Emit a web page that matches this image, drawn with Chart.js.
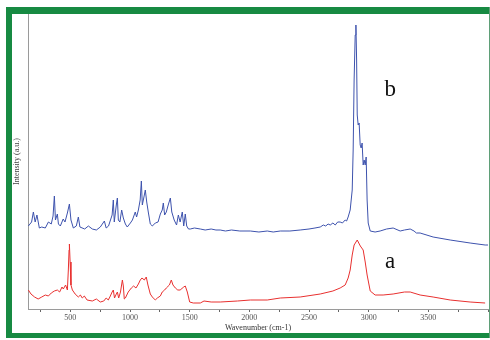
<!DOCTYPE html>
<html>
<head>
<meta charset="utf-8">
<script src="https://cdn.jsdelivr.net/npm/chart.js@4"></script>
<style>
  body { margin: 0; background: #fff; }
  #wrap { position: relative; width: 490px; height: 340px; overflow: hidden; }
  .band { position: absolute; background: #178a42; }
  canvas { position: absolute; left: 0; top: 0; }
</style>
</head>
<body>
<div id="wrap">
  <div class="band" style="left:6px;top:7px;width:484px;height:7px;"></div>
  <div class="band" style="left:6px;top:7px;width:6px;height:331px;"></div>
  <div class="band" style="left:6px;top:333px;width:484px;height:5px;"></div>
  <div class="band" style="left:489px;top:7px;width:1px;height:331px;background:#5f9f78;"></div>
  <canvas id="chart" width="490" height="340"></canvas>
</div>
<script>
// spectrum b (blue, upper trace)
const waveB = [148, 175, 190, 205, 220, 240, 260, 290, 316, 340, 355, 366, 375, 391, 400, 416, 440, 455, 475, 492,
  505, 525, 550, 567, 580, 620, 651, 684, 718, 751, 785, 800, 820, 850, 860, 868, 885, 894, 902, 915,
  930, 944, 961, 977, 1003, 1020, 1035, 1044, 1055, 1070, 1085, 1095, 1103, 1115, 1128, 1140, 1153, 1170, 1187, 1212,
  1235, 1254, 1270, 1279, 1290, 1304, 1320, 1338, 1350, 1370, 1390, 1405, 1420, 1438, 1450, 1463, 1475, 1490, 1505, 1540,
  1589, 1630, 1680, 1720, 1756, 1800, 1850, 1920, 2008, 2080, 2150, 2200, 2259, 2340, 2426, 2500, 2550, 2594, 2620, 2640,
  2660, 2678, 2700, 2720, 2740, 2761, 2780, 2803, 2815, 2828, 2845, 2862, 2870, 2878, 2887,
  2893, 2899, 2904, 2912, 2920, 2929, 2937, 2945, 2954, 2962, 2971, 2979, 2987, 2996, 3013, 3054, 3096, 3150, 3205, 3264,
  3300, 3348, 3380, 3400, 3431, 3540, 3683, 3850, 3976, 4000];
const intensityB = [83, 87, 97, 87, 94, 81, 82, 81, 87, 85, 93, 113, 89, 95, 85, 83, 90, 87, 96, 105,
  89, 81, 83, 92, 82, 80, 83, 80, 79, 82, 88, 81, 83, 94, 109, 87, 104, 111, 89, 87,
  99, 91, 85, 82, 86, 89, 94, 97, 92, 99, 109, 128, 104, 111, 119, 107, 97, 85, 83, 86,
  87, 95, 99, 106, 94, 97, 104, 111, 97, 89, 84, 94, 87, 97, 83, 95, 83, 80, 80, 81,
  80, 79, 80, 79, 79, 78, 79, 78, 78, 77, 78, 77, 78, 78, 79, 80, 81, 82, 84, 83,
  85, 84, 86, 84, 87, 87, 86, 89, 88, 92, 99, 119, 159, 229, 274,
  284, 249, 194, 184, 186, 164, 161, 166, 144, 149, 144, 152, 109, 86, 78, 77, 78, 80, 81, 78,
  79, 80, 78, 76, 76, 72, 69, 66, 64, 64];

// spectrum a (red, lower trace)
const waveA = [148, 170, 200, 230, 260, 290, 316, 340, 366, 391, 410, 430, 441, 460, 475, 483, 489, 492, 498, 505,
  517, 540, 567, 584, 600, 617, 640, 684, 718, 751, 780, 800, 818, 835, 850, 860, 870, 885, 894, 905,
  920, 936, 944, 952, 961, 985, 1011, 1030, 1050, 1070, 1086, 1100, 1120, 1136, 1150, 1170, 1187, 1212, 1229, 1254,
  1270, 1290, 1304, 1330, 1346, 1360, 1380, 1400, 1420, 1450, 1463, 1480, 1500, 1530, 1589, 1620, 1680, 1756, 1900, 2008, 2150,
  2259, 2426, 2594, 2700, 2761, 2803, 2828, 2845, 2862, 2878, 2904, 2930, 2954, 2971, 2987, 3013, 3054, 3121, 3205, 3300,
  3348, 3431, 3540, 3683, 3850, 3976];
const intensityA = [19, 15, 12, 10, 12, 14, 13, 16, 18, 19, 17, 22, 20, 24, 19, 39, 59, 65, 47, 24,
  19, 15, 12, 14, 11, 13, 9, 8, 10, 7, 8, 11, 9, 13, 17, 19, 11, 15, 17, 11,
  17, 29, 23, 10, 11, 17, 21, 23, 21, 25, 29, 31, 29, 32, 24, 15, 12, 9, 11, 13,
  17, 19, 21, 24, 29, 24, 21, 19, 19, 22, 23, 17, 7, 6, 6, 8, 7, 7, 8, 9, 9,
  11, 12, 15, 18, 21, 24, 31, 39, 54, 64, 69, 63, 59, 47, 34, 18, 14, 14, 15, 17,
  17, 14, 12, 9, 7, 6];

const tickValues = [250, 500, 750, 1000, 1250, 1500, 1750, 2000, 2250, 2500, 2750, 3000, 3250, 3500, 3750, 4000];
const traceLabels = [
  { text: 'b', x: 3180, y: 219 },
  { text: 'a', x: 3180, y: 47 }
];

const toPoints = (xs, ys) => xs.map((x, i) => ({ x: x, y: ys[i] }));

const labelPlugin = {
  id: 'traceLabels',
  afterDatasetsDraw(chart) {
    const ctx = chart.ctx;
    ctx.save();
    ctx.font = '23px "Liberation Serif"';
    ctx.fillStyle = '#111';
    ctx.textAlign = 'center';
    ctx.textBaseline = 'middle';
    traceLabels.forEach(l => {
      ctx.fillText(l.text, chart.scales.x.getPixelForValue(l.x), chart.scales.y.getPixelForValue(l.y));
    });
    ctx.restore();
  }
};

new Chart(document.getElementById('chart'), {
  type: 'line',
  data: {
    datasets: [{
      label: 'b',
      data: toPoints(waveB, intensityB),
      borderColor: '#3d52ad',
      borderWidth: 1,
      pointRadius: 0,
      tension: 0
    }, {
      label: 'a',
      data: toPoints(waveA, intensityA),
      borderColor: '#e8302f',
      borderWidth: 1,
      pointRadius: 0,
      tension: 0
    }]
  },
  options: {
    responsive: false,
    animation: false,
    devicePixelRatio: 1,
    layout: { padding: { left: 12, right: 2, top: 14, bottom: 7 } },
    plugins: { legend: { display: false }, tooltip: { enabled: false } },
    scales: {
      x: {
        type: 'linear',
        min: 145,
        max: 4000,
        afterFit: scale => { scale.height = 24; },
        afterBuildTicks: scale => { scale.ticks = tickValues.map(v => ({ value: v })); },
        ticks: {
          autoSkip: false,
          maxRotation: 0,
          padding: 1,
          color: '#555',
          font: { family: 'Liberation Serif', size: 8 },
          callback: v => (v % 500 === 0 && v < 4000) ? String(v) : ''
        },
        grid: { drawOnChartArea: false, tickLength: 3, color: '#666' },
        border: { color: '#9a9a9a', width: 1 },
        title: {
          display: true,
          text: 'Wavenumber (cm-1)',
          color: '#333',
          padding: 0,
          font: { family: 'Liberation Serif', size: 8 }
        }
      },
      y: {
        min: 0,
        max: 295,
        afterFit: scale => { scale.width = 16; },
        ticks: { display: false },
        grid: { display: false },
        border: { color: '#9a9a9a', width: 1 },
        title: {
          display: true,
          text: 'Intensity (a.u.)',
          color: '#444',
          padding: 0,
          font: { family: 'Liberation Serif', size: 8 }
        }
      }
    }
  },
  plugins: [labelPlugin]
});
</script>
</body>
</html>
